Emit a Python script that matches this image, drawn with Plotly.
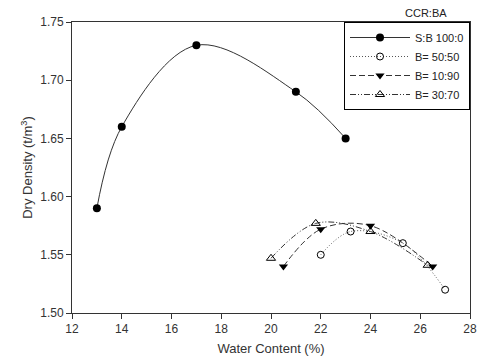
import plotly.graph_objects as go

# Data
sb100_x = [13, 14, 17, 21, 23]
sb100_y = [1.59, 1.66, 1.73, 1.69, 1.65]
b5050_x = [22, 23.2, 25.3, 27]
b5050_y = [1.55, 1.57, 1.56, 1.52]
b1090_x = [20.5, 22, 24, 26.5]
b1090_y = [1.54, 1.572, 1.575, 1.54]
b3070_x = [20, 21.8, 24, 26.3]
b3070_y = [1.547, 1.577, 1.570, 1.541]

x_ticks = [12, 14, 16, 18, 20, 22, 24, 26, 28]
y_ticks = [1.50, 1.55, 1.60, 1.65, 1.70, 1.75]

FONT = "Liberation Sans, Arial, sans-serif"

fig = go.Figure()
fig.add_trace(go.Scatter(
    x=sb100_x, y=sb100_y, name="S:B 100:0", mode="lines+markers",
    line=dict(color="#333333", width=1, shape="spline", smoothing=1.0),
    marker=dict(symbol="circle", size=8, color="black")))
fig.add_trace(go.Scatter(
    x=b5050_x, y=b5050_y, name="B= 50:50", mode="lines+markers",
    line=dict(color="#555555", width=1, shape="spline", dash="1px,2px"),
    marker=dict(symbol="circle-open", size=7, color="black", line=dict(width=1))))
fig.add_trace(go.Scatter(
    x=b1090_x, y=b1090_y, name="B= 10:90", mode="lines+markers",
    line=dict(color="#333333", width=1, shape="spline", dash="6px,3px"),
    marker=dict(symbol="triangle-down", size=8, color="black")))
fig.add_trace(go.Scatter(
    x=b3070_x, y=b3070_y, name="B= 30:70", mode="lines+markers",
    line=dict(color="#333333", width=1, shape="spline", dash="6px,2px,1px,2px,1px,2px"),
    marker=dict(symbol="triangle-up-open", size=8, color="black", line=dict(width=1))))

fig.update_layout(
    width=485, height=362,
    margin=dict(l=72, r=8, t=22, b=48),
    paper_bgcolor="white", plot_bgcolor="white",
    font=dict(family=FONT, size=12, color="#333333"),
    showlegend=True,
    legend=dict(x=1, y=1, xanchor="right", yanchor="top",
                bgcolor="white", bordercolor="black", borderwidth=1,
                font=dict(family=FONT, size=11, color="#222222"),
                itemwidth=60, tracegroupgap=0),
    annotations=[dict(text="CCR:BA", x=0.89, y=1.0, xref="paper", yref="paper",
                      xanchor="center", yanchor="bottom", showarrow=False,
                      yshift=1, font=dict(family=FONT, size=11, color="#222222"))],
)
fig.update_xaxes(
    range=[12, 28], tickvals=x_ticks, ticks="outside", ticklen=5, tickcolor="#333333",
    showline=True, linecolor="#333333", linewidth=1, mirror=True, showgrid=False,
    zeroline=False, title=dict(text="Water Content (%)", font=dict(size=13), standoff=8),
    tickfont=dict(size=12))
fig.update_yaxes(
    range=[1.50, 1.75], tickvals=y_ticks, tickformat=".2f", ticks="outside", ticklen=5,
    tickcolor="#333333", showline=True, linecolor="#333333", linewidth=1, mirror=True,
    showgrid=False, zeroline=False,
    title=dict(text="Dry Density (t/m<sup>3</sup>)", font=dict(size=13), standoff=4),
    tickfont=dict(size=12))

fig.write_html("out.html", config={"displayModeBar": False},
               post_script="document.body.style.margin='0';")
